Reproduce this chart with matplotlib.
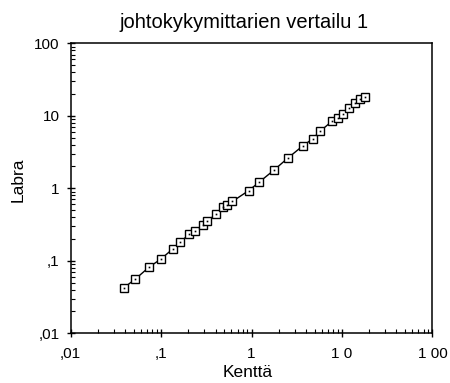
import numpy as np
import matplotlib.pyplot as plt
from matplotlib.ticker import FixedLocator, LogLocator, NullFormatter

plt.rcParams['font.family'] = ['Liberation Sans', 'DejaVu Sans']

# Kenttä (field meter) vs Labra (lab meter)
kentta = [0.039, 0.052, 0.074, 0.100, 0.135, 0.163, 0.205, 0.240, 0.294, 0.322,
          0.405, 0.484, 0.532, 0.614, 0.93, 1.22, 1.77, 2.53, 3.71, 4.73,
          5.72, 7.81, 9.06, 10.3, 12.1, 13.9, 15.9, 18.0]
labra = [0.0426, 0.056, 0.082, 0.106, 0.146, 0.180, 0.234, 0.258, 0.315, 0.354,
         0.436, 0.543, 0.594, 0.658, 0.927, 1.22, 1.78, 2.62, 3.87, 4.79,
         6.11, 8.48, 9.38, 10.5, 12.8, 14.9, 17.2, 18.3]

tick_vals = [0.01, 0.1, 1, 10, 100]
tick_labels = [",01", ",1", "1", "1 0", "1 00"]

fig = plt.figure(figsize=(4.5, 3.83), dpi=100)
ax = fig.add_axes([0.157, 0.130, 0.804, 0.757])

ax.plot(kentta, labra, color='black', linewidth=1.0, marker='s', markersize=6,
        markerfacecolor='white', markeredgecolor='black', markeredgewidth=1.0)
ax.plot(kentta, labra, linestyle='none', marker='s', markersize=1.2,
        markerfacecolor='black', markeredgecolor='none')

ax.set_xscale('log')
ax.set_yscale('log')
ax.set_xlim(0.01, 100)
ax.set_ylim(0.01, 100)

ax.xaxis.set_major_locator(FixedLocator(tick_vals))
ax.yaxis.set_major_locator(FixedLocator(tick_vals))
ax.set_xticklabels(tick_labels, fontsize=11)
ax.set_yticklabels([",01", ",1", "1", "10", "100"], fontsize=11)
ax.xaxis.set_minor_locator(LogLocator(base=10, subs=np.arange(2, 10)))
ax.yaxis.set_minor_locator(LogLocator(base=10, subs=np.arange(2, 10)))
ax.xaxis.set_minor_formatter(NullFormatter())
ax.yaxis.set_minor_formatter(NullFormatter())

ax.tick_params(which='major', direction='inout', length=6, width=1.0)
ax.tick_params(axis='x', which='major', pad=7)
ax.tick_params(axis='y', which='major', pad=5)
ax.tick_params(which='minor', direction='in', length=3, width=0.8)
ax.tick_params(top=False, right=False)

for s in ax.spines.values():
    s.set_linewidth(1.1)

ax.text(0.479, 1.0 + 21 / 290, "johtokykymittarien vertailu 1", transform=ax.transAxes,
        ha='center', va='center', fontsize=14.5)
ax.set_xlabel("Kenttä", fontsize=12.5)
ax.xaxis.set_label_coords(0.49, -0.108)
ax.set_ylabel("Labra", fontsize=12.5)
ax.yaxis.set_label_coords(-0.125, 0.53)

fig.savefig("out.png", dpi=100)
